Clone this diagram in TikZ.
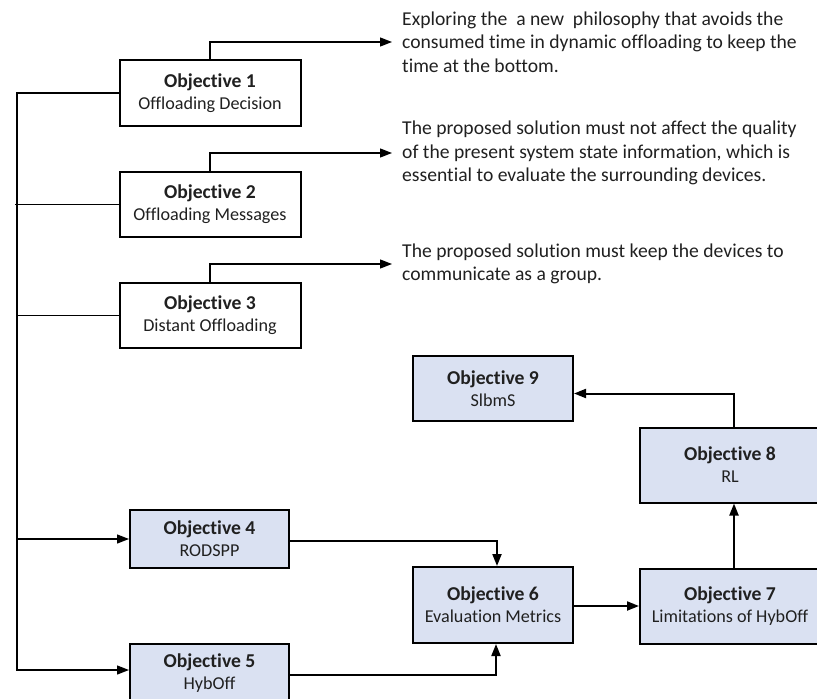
\documentclass[tikz,border=0pt]{standalone}
\usepackage{fontspec}
\setmainfont{Carlito}[Ligatures=NoCommon]
\usetikzlibrary{arrows.meta,positioning}
\definecolor{boxfill}{RGB}{218,225,242}
\definecolor{ink}{RGB}{32,32,32}
\newcommand{\objtitle}[1]{{\fontsize{19.7}{22}\selectfont\bfseries #1}}
\tikzset{
  objbox/.style={draw=black, line width=2bp, align=center, inner sep=0pt,
    text=ink, font=\fontsize{18.2}{22}\selectfont},
  plainbox/.style={objbox, fill=white},
  bluebox/.style={objbox, fill=boxfill},
  note/.style={anchor=west, align=left, inner xsep=10bp, inner ysep=0pt,
    text=ink, font=\fontsize{19.7}{23.5}\selectfont},
  thin/.style={line width=1.3bp},
  thick/.style={line width=2bp},
  tip/.style={-{Triangle[length=12bp,width=9bp]}}
}
\begin{document}
\begin{tikzpicture}[x=1bp,y=-1bp]
\useasboundingbox (0,0) rectangle (817,699);

% objectives with a note each
\node[plainbox, minimum width=181bp, minimum height=65bp] (o1) at (210,93)
  {\objtitle{Objective 1}\\Offloading Decision};
\node[plainbox, minimum width=181bp, minimum height=65bp] (o2) at (210,204.5)
  {\objtitle{Objective 2}\\Offloading Messages};
\node[plainbox, minimum width=181bp, minimum height=65bp] (o3) at (210,315.5)
  {\objtitle{Objective 3}\\Distant Offloading};

\node[note] (t1) at (392,42)
  {Exploring the \ a new \ philosophy that avoids the\\consumed time in dynamic offloading to keep the\\time at the bottom.};
\node[note] (t2) at (392,153)
  {The proposed solution must not affect the quality\\of the present system state information, which is\\essential to evaluate the surrounding devices.};
\node[note] (t3) at (392,264)
  {The proposed solution must keep the devices to\\communicate as a group.};

% objectives of the work chain
\node[bluebox, minimum width=159bp, minimum height=58bp] (o4) at (209.5,539)
  {\objtitle{Objective 4}\\RODSPP};
\node[bluebox, minimum width=159bp, minimum height=58bp] (o5) at (209.5,673)
  {\objtitle{Objective 5}\\HybOff};
\node[bluebox, minimum width=160bp, minimum height=76bp] (o6) at (493,605)
  {\objtitle{Objective 6}\\Evaluation Metrics};
\node[bluebox, minimum width=180bp, minimum height=75bp] (o7) at (730,606.5)
  {\objtitle{Objective 7}\\Limitations of HybOff};
\node[bluebox, minimum width=180bp, minimum height=75bp] (o8) at (730,465)
  {\objtitle{Objective 8}\\RL};
\node[bluebox, minimum width=160bp, minimum height=65bp] (o9) at (493,388.5)
  {\objtitle{Objective 9}\\SlbmS};

% left bus
\coordinate (busbot) at (17,670);
\draw[thin, tip] (o1.west) -| (busbot) -- (busbot -| o5.west);
\draw[thin] (o2.west) -- ([xshift=-2bp]o2.west -| busbot);
\draw[thin] (o3.west) -- (o3.west -| busbot);
\draw[thin, tip] (o4.west -| busbot) -- (o4.west);

% objective to note
\draw[thin, tip] (o1.north) |- (t1.west);
\draw[thin, tip] (o2.north) |- (t2.west);
\draw[thin, tip] (o3.north) |- (t3.west);

% work chain
\draw[thick, tip] ([yshift=-2bp]o4.east) -| ([xshift=4bp]o6.north);
\draw[thick, tip] ([yshift=-2bp]o5.east) -| ([xshift=3bp]o6.south);
\draw[thick, tip] ([yshift=-1bp]o6.east) -- ([yshift=-1bp]o6.east -| o7.west);
\draw[thick, tip] ([xshift=4bp]o7.north) -- ([xshift=4bp]o8.south);
\draw[thick, tip] ([xshift=4bp]o8.north) |- ([yshift=-5bp]o9.east);
\end{tikzpicture}
\end{document}
